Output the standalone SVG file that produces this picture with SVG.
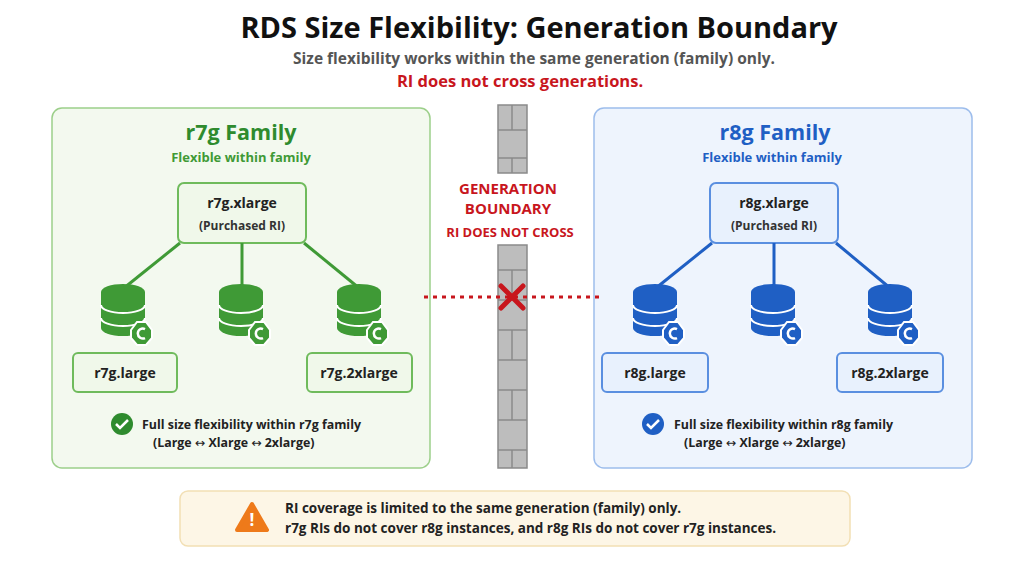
<svg xmlns="http://www.w3.org/2000/svg" width="1024" height="562" viewBox="0 0 1024 562">
<style>
text{font-family:"Open Sans","Liberation Sans",sans-serif;font-weight:bold}
.g{fill:#2e8b2e}.b{fill:#1f5fc4}
.gbox{fill:#f0f8ea;stroke:#6fbb5c;stroke-width:2}
.bbox{fill:#e8f1fd;stroke:#5a8fe0;stroke-width:2}
.gl{stroke:#3f9a36;stroke-width:3}.bl{stroke:#1f5fc4;stroke-width:3}
.nt{font-size:14px;fill:#222}
.ar{font-family:"DejaVu Sans",sans-serif;font-weight:normal}
</style>
<defs>
<g id="db">
<path d="M-22,-26 a22,8 0 0,1 44,0 v36 a22,8 0 0,1 -44,0 z"/>
<path d="M-22,-13 a22,8 0 0,0 44,0 M-22,0 a22,8 0 0,0 44,0" fill="none" stroke="#fff" stroke-width="2"/>
<polygon points="14,4 23,4 29,12 29,20 23,27 14,27 8,20 8,12" stroke="#fff" stroke-width="2"/>
<path d="M22,11 a5,5 0 1,0 0,9" fill="none" stroke="#fff" stroke-width="2.5"/>
</g>
</defs>
<rect width="1024" height="562" fill="#fff"/>
<text x="539" y="38" text-anchor="middle" font-size="29" fill="#111">RDS Size Flexibility: Generation Boundary</text>
<text x="534" y="64" text-anchor="middle" font-size="15.5" fill="#555">Size flexibility works within the same generation (family) only.</text>
<text x="520" y="87" text-anchor="middle" font-size="16.5" fill="#c8161d">RI does not cross generations.</text>

<g id="r7g">
<rect x="52" y="108" width="378" height="360" rx="10" fill="#f3f9ef" stroke="#9ccf8a" stroke-width="1.5"/>
<text x="241" y="140" text-anchor="middle" font-size="21.5" class="g">r7g Family</text>
<text x="241" y="162" text-anchor="middle" font-size="13" fill="#3f9a36" font-weight="600">Flexible within family</text>
<rect x="178" y="183" width="128" height="60" rx="6" class="gbox"/>
<text x="242" y="208" text-anchor="middle" class="nt">r7g.xlarge</text>
<text x="242" y="230" text-anchor="middle" font-size="12" fill="#333">(Purchased RI)</text>
<g fill="#3f9a36"><use href="#db" x="123" y="318"/><use href="#db" x="241" y="318"/><use href="#db" x="359" y="318"/></g>
<rect x="73" y="353" width="104" height="39" rx="5" class="gbox"/>
<text x="125" y="378" text-anchor="middle" class="nt">r7g.large</text>
<rect x="307" y="353" width="105" height="39" rx="5" class="gbox"/>
<text x="359" y="378" text-anchor="middle" class="nt">r7g.2xlarge</text>
<circle cx="122" cy="424" r="11" fill="#2e8b2e"/>
<path d="M116,424 l4,4 l8,-8" fill="none" stroke="#fff" stroke-width="2.5"/>
<text x="142" y="429" font-size="12.4" fill="#222">Full size flexibility within r7g family</text>
<text x="153" y="447" font-size="12.4" fill="#222">(Large <tspan class="ar">↔</tspan> Xlarge <tspan class="ar">↔</tspan> 2xlarge)</text>
</g>

<g id="r8g">
<rect x="594" y="108" width="378" height="360" rx="10" fill="#eef4fd" stroke="#9dbdec" stroke-width="1.5"/>
<text x="775" y="140" text-anchor="middle" font-size="21.5" class="b">r8g Family</text>
<text x="772" y="162" text-anchor="middle" font-size="13" fill="#1f5fc4" font-weight="600">Flexible within family</text>
<rect x="710" y="183" width="128" height="60" rx="6" class="bbox"/>
<text x="774" y="208" text-anchor="middle" class="nt">r8g.xlarge</text>
<text x="774" y="230" text-anchor="middle" font-size="12" fill="#333">(Purchased RI)</text>
<g fill="#1f5fc4"><use href="#db" x="655" y="318"/><use href="#db" x="773" y="318"/><use href="#db" x="890" y="318"/></g>
<rect x="602" y="353" width="106" height="39" rx="5" class="bbox"/>
<text x="655" y="378" text-anchor="middle" class="nt">r8g.large</text>
<rect x="837" y="353" width="106" height="39" rx="5" class="bbox"/>
<text x="890" y="378" text-anchor="middle" class="nt">r8g.2xlarge</text>
<circle cx="653" cy="424" r="11" fill="#1f5fc4"/>
<path d="M647,424 l4,4 l8,-8" fill="none" stroke="#fff" stroke-width="2.5"/>
<text x="674" y="429" font-size="12.4" fill="#222">Full size flexibility within r8g family</text>
<text x="684" y="447" font-size="12.4" fill="#222">(Large <tspan class="ar">↔</tspan> Xlarge <tspan class="ar">↔</tspan> 2xlarge)</text>
</g>

<g id="wall" fill="#bdbdbd" stroke="#8a8a8a" stroke-width="1.5">
<rect x="498" y="105" width="29" height="68"/>
<rect x="498" y="245" width="29" height="223"/>
<path d="M498,130 h29 M498,158 h29 M498,270 h29 M498,300 h29 M498,330 h29 M498,360 h29 M498,390 h29 M498,420 h29 M498,450 h29 M512,105 v25 M512,158 v15 M512,270 v30 M512,330 v30 M512,390 v30 M512,450 v18" fill="none"/>
</g>
<g id="boundary-label" fill="#c8161d" text-anchor="middle">
<text x="508" y="194" font-size="15">GENERATION</text>
<text x="508" y="214" font-size="15">BOUNDARY</text>
<text x="510" y="237" font-size="13">RI DOES NOT CROSS</text>
</g>

<g id="connectors">
<line x1="242" y1="243" x2="242" y2="288" class="gl"/>
<line x1="180" y1="243" x2="124" y2="288" class="gl"/>
<line x1="304" y1="243" x2="359" y2="288" class="gl"/>
<line x1="774" y1="243" x2="774" y2="288" class="bl"/>
<line x1="712" y1="243" x2="656" y2="288" class="bl"/>
<line x1="836" y1="243" x2="890" y2="288" class="bl"/>
<line x1="424" y1="297" x2="600" y2="297" stroke="#c8161d" stroke-width="3" stroke-dasharray="4,5"/>
<path d="M501,286 l22,22 M523,286 l-22,22" stroke="#c8161d" stroke-width="5" stroke-linecap="round"/>
</g>

<g id="note">
<rect x="180" y="491" width="670" height="55" rx="8" fill="#fdf6e6" stroke="#f2dfb4" stroke-width="1.5"/>
<path d="M252,504 l15,26 h-30 z" fill="#ee7a1a" stroke="#ee7a1a" stroke-width="4" stroke-linejoin="round"/>
<text x="252" y="526" text-anchor="middle" font-size="17" fill="#fff">!</text>
<text x="285" y="513" font-size="13.5" fill="#222" font-weight="600">RI coverage is limited to the same generation (family) only.</text>
<text x="285" y="533" font-size="13.5" fill="#222" font-weight="600">r7g RIs do not cover r8g instances, and r8g RIs do not cover r7g instances.</text>
</g>
</svg>
